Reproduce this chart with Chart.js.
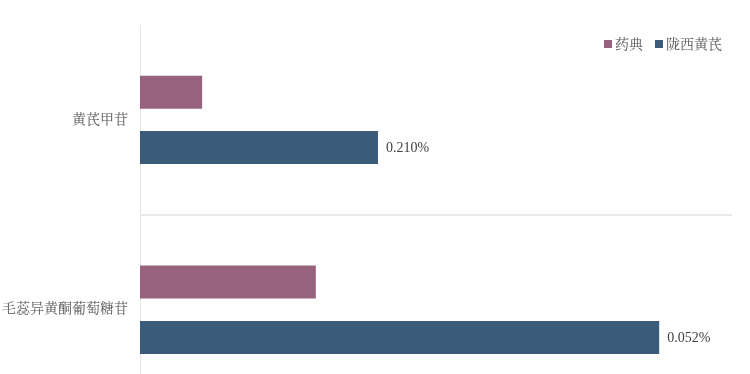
<!DOCTYPE html>
<html>
<head>
<meta charset="utf-8">
<script src="https://cdn.jsdelivr.net/npm/chart.js@4"></script>
<style>
    html, body { margin: 0; padding: 0; background: #fff; overflow: hidden; }
    #wrap { position: relative; width: 750px; height: 425px; }
    #legend {
        position: absolute; top: 36px; right: 28px;
        font: 14px 'Liberation Serif', 'Noto Serif CJK SC', 'Noto Sans CJK SC', serif;
        color: #595959; display: flex; gap: 12px; line-height: 18px;
    }
    #legend span.box { display: inline-block; width: 8px; height: 8px; margin-right: 3px; vertical-align: 1px; }
</style>
</head>
<body>
<div id="wrap"><canvas id="chart"></canvas><div id="legend"></div></div>
<script>
// Categories and series (bar lengths, hidden axis 0-100)
const categories = ["黄芪甲苷", "毛蕊异黄酮葡萄糖苷"];
const seriesNames = ["药典", "陇西黄芪"];
const seriesColors = ["#98627f", "#3a5b7a"];
const pharmacopoeiaValues = [10.5, 29.7];
const longxiValues = [40.2, 87.7];
const longxiLabels = ["0.210%", "0.052%"];

const FONT = "'Liberation Serif', 'Noto Serif CJK SC', 'Noto Sans CJK SC', serif";

// Draw value labels at the end of the 陇西黄芪 bars
const barLabels = {
    id: "barLabels",
    afterDatasetsDraw(chart) {
        const ctx = chart.ctx;
        const meta = chart.getDatasetMeta(1);
        ctx.save();
        ctx.font = "14px " + FONT;
        ctx.fillStyle = "#404040";
        ctx.textAlign = "left";
        ctx.textBaseline = "middle";
        meta.data.forEach((bar, i) => {
            ctx.fillText(longxiLabels[i], bar.x + 8, bar.y + 1);
        });
        ctx.restore();
    },
};

const chart = new Chart(document.getElementById("chart").getContext("2d"), {
    type: "bar",
    data: {
        labels: categories,
        datasets: [
            {
                label: seriesNames[0],
                data: pharmacopoeiaValues,
                backgroundColor: seriesColors[0],
                categoryPercentage: 0.584,
                barPercentage: 0.595,
            },
            {
                label: seriesNames[1],
                data: longxiValues,
                backgroundColor: seriesColors[1],
                categoryPercentage: 0.584,
                barPercentage: 0.595,
            },
        ],
    },
    options: {
        indexAxis: "y",
        responsive: true,
        maintainAspectRatio: false,
        animation: false,
        layout: {
            padding: { top: 25, bottom: 5, left: 2, right: 18 },
        },
        scales: {
            x: {
                display: false,
                min: 0,
                max: 100,
            },
            y: {
                afterFit: (scale) => {
                    scale.width = 138;
                },
                grid: {
                    drawTicks: false,
                    lineWidth: 2,
                    color: (ctx) => (ctx.index === 1 ? "#ebebeb" : "rgba(0,0,0,0)"),
                },
                border: {
                    display: true,
                    color: "#e6e6e6",
                    width: 1,
                },
                ticks: {
                    padding: 12,
                    color: "#595959",
                    font: { size: 14, family: FONT },
                },
            },
        },
        plugins: {
            legend: { display: false },
            tooltip: { enabled: false },
        },
    },
    plugins: [barLabels],
});

// HTML legend built from the series
document.getElementById("legend").innerHTML = seriesNames
    .map((name, i) => `<div><span class="box" style="background:${seriesColors[i]}"></span>${name}</div>`)
    .join("");
</script>
</body>
</html>
